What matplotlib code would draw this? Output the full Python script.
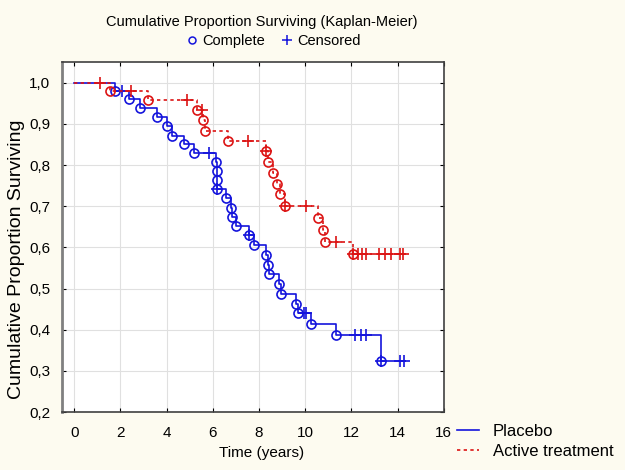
import numpy as np
import matplotlib as mpl
import matplotlib.pyplot as plt
from matplotlib.lines import Line2D

mpl.rc('font', family=['Liberation Sans', 'DejaVu Sans'])

# Placebo: event times / survival after event, censored times
placebo_t = [1.77, 2.37, 2.84, 3.60, 4.02, 4.25, 4.76, 5.17, 6.15, 6.17, 6.18, 6.19,
             6.58, 6.80, 6.85, 7.01, 7.56, 7.80, 8.28, 8.40, 8.45, 8.88, 8.95,
             9.60, 9.67, 10.24, 11.32, 13.30]
placebo_s = [0.981, 0.960, 0.938, 0.916, 0.894, 0.872, 0.852, 0.830, 0.807, 0.786, 0.764, 0.742,
             0.721, 0.697, 0.675, 0.652, 0.629, 0.607, 0.582, 0.558, 0.536, 0.510, 0.487,
             0.463, 0.440, 0.413, 0.387, 0.324]
placebo_cens = [2.05, 5.82, 6.19, 7.56, 9.93, 10.03, 12.14, 12.40, 12.62, 13.30, 14.12, 14.27]
placebo_end = 14.33

# Active treatment
active_t = [1.55, 3.20, 5.33, 5.57, 5.67, 6.65, 8.28, 8.38, 8.62, 8.78, 8.92, 9.14,
            10.57, 10.75, 10.86, 12.05]
active_s = [0.979, 0.958, 0.934, 0.909, 0.883, 0.858, 0.834, 0.807, 0.780, 0.755, 0.729, 0.700,
            0.672, 0.642, 0.614, 0.584]
active_cens = [1.12, 2.46, 4.86, 5.52, 7.54, 8.28, 9.14, 10.03, 11.35, 12.05, 12.30, 12.45,
               12.65, 13.20, 13.45, 13.70, 14.10, 14.25]
active_end = 14.30

BLUE = '#1414dc'
RED = '#dc1414'
DOTS = (0, (2, 2))


def draw_km(ax, t, s, cens, end, color, ls):
    xs = np.r_[0, t, end]
    ys = np.r_[1.0, s, s[-1]]
    ax.plot(xs, ys, drawstyle='steps-post', color=color, lw=1.2, ls=ls)
    ax.plot(t, s, 'o', ms=6.5, mfc='none', mec=color, mew=1.2)
    # level of the curve at each censored time
    idx = np.searchsorted(t, cens, side='right')
    cy = np.r_[1.0, s][idx]
    ax.plot(cens, cy, '+', ms=8, color=color, mew=1.2)


fig = plt.figure(figsize=(6.25, 4.7), dpi=100, facecolor='#fdfbf0')
ax = fig.add_axes([0.0992, 0.1234, 0.611, 0.745])
ax.set_facecolor('white')

draw_km(ax, placebo_t, placebo_s, placebo_cens, placebo_end, BLUE, '-')
draw_km(ax, active_t, active_s, active_cens, active_end, RED, DOTS)

ax.set_xlim(-0.53, 16)
ax.set_ylim(0.2, 1.051)
ax.set_xticks(np.arange(0, 17, 2))
yt = np.arange(0.2, 1.01, 0.1)
ax.set_yticks(yt)
ax.set_yticklabels(['{:.1f}'.format(v).replace('.', ',') for v in yt])
ax.grid(True, color='#e0e0e0', lw=0.8)
ax.set_axisbelow(True)
ax.tick_params(direction='in', length=3, labelsize=11, top=True, right=True,
               labeltop=False, labelright=False)
ax.tick_params(axis='x', pad=10)
ax.tick_params(axis='y', pad=8.5)
for sp in ax.spines.values():
    sp.set_color('#404040')
    sp.set_linewidth(1.2)
ax.spines['left'].set_color('#808080')
ax.spines['left'].set_linewidth(2)

fig.text(0.419, 0.036, 'Time (years)', fontsize=11, ha='center', va='center')
fig.text(0.027, 0.449, 'Cumulative Proportion Surviving', fontsize=14, rotation=90,
         ha='center', va='center')

fig.text(0.418, 0.953, 'Cumulative Proportion Surviving (Kaplan-Meier)', fontsize=10.5,
         ha='center', va='center')
fig.legend(handles=[Line2D([], [], ls='none', marker='o', mfc='none', mec=BLUE, ms=5, mew=1.1),
                    Line2D([], [], ls='none', marker='+', color=BLUE, ms=7, mew=1.1)],
           labels=['Complete', 'Censored'], ncol=2, loc='center', bbox_to_anchor=(0.437, 0.912),
           frameon=False, fontsize=10.5, handletextpad=0.3, columnspacing=1.1, handlelength=0.8)
fig.legend(handles=[Line2D([], [], color=BLUE, lw=1.2),
                    Line2D([], [], color=RED, lw=1.2, ls=DOTS)],
           labels=['Placebo', 'Active treatment'], loc='upper left',
           bbox_to_anchor=(0.7205, 0.112), frameon=False, fontsize=12,
           handlelength=1.3, handletextpad=0.85, labelspacing=0.3, borderaxespad=0)

fig.savefig('out.png', dpi=100, facecolor=fig.get_facecolor())
